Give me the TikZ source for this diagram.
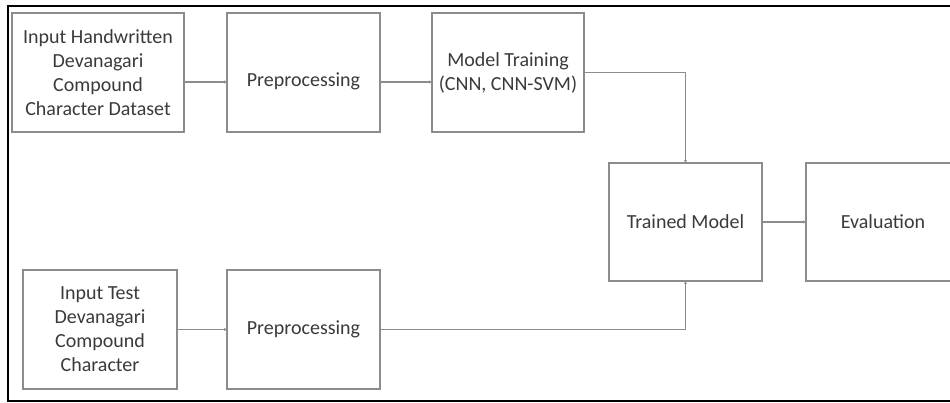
\documentclass[tikz,border=0pt]{standalone}
\usepackage{fontspec}
\setmainfont{Carlito}
\usepackage{xcolor}
\definecolor{Edge}{HTML}{8C8C8C}
\definecolor{Ink}{HTML}{3A3A3A}
\colorlet{edge}{Edge}
\colorlet{ink}{Ink}
\usepackage{tikz}
\usetikzlibrary{arrows.meta,positioning}

\begin{document}
\begin{tikzpicture}[x=1pt,y=-1pt,node distance=43pt,
  every node/.style={font=\fontsize{20}{24}\selectfont,align=center,text=ink},
  blk/.style={draw=edge,line width=1.2pt,minimum height=119pt,inner sep=2pt,outer sep=0pt},
  flow/.style={draw=edge,line width=1.2pt,-{Stealth[length=3pt,width=3pt]}}]
\useasboundingbox (0,0) rectangle (950,403);
\draw[line width=2pt] (8,6) rectangle (965,401);
\node[blk,minimum width=172pt] (data) at (98,72.5) {Input Handwritten\\Devanagari\\Compound\\Character Dataset};
\node[blk,minimum width=153pt,text height=32pt,right=of data] (prep) {Preprocessing};
\node[blk,minimum width=152pt,right=52pt of prep] (train) {Model Training\\(CNN, CNN-SVM)};
\node[blk,minimum width=153pt,minimum height=118pt] (model) at (685.5,222) {Trained Model};
\node[blk,minimum width=154pt,minimum height=118pt,right=44pt of model] (eval) {Evaluation};
\node[blk,minimum width=154pt] (test) at (100,329.5) {Input Test\\Devanagari\\Compound\\Character};
\node[blk,minimum width=153pt,right=50pt of test] (tprep) {Preprocessing};
\draw[flow] ([yshift=-9.5pt]data.east)--([yshift=-9.5pt]prep.west);
\draw[flow] ([yshift=-9.5pt]prep.east)--([yshift=-9.5pt]train.west);
\draw[flow] (train.east) -| (model.north);
\draw[flow] (model)--(eval);
\draw[flow] (test)--(tprep);
\draw[flow] (tprep.east) -| (model.south);
\end{tikzpicture}
\end{document}
